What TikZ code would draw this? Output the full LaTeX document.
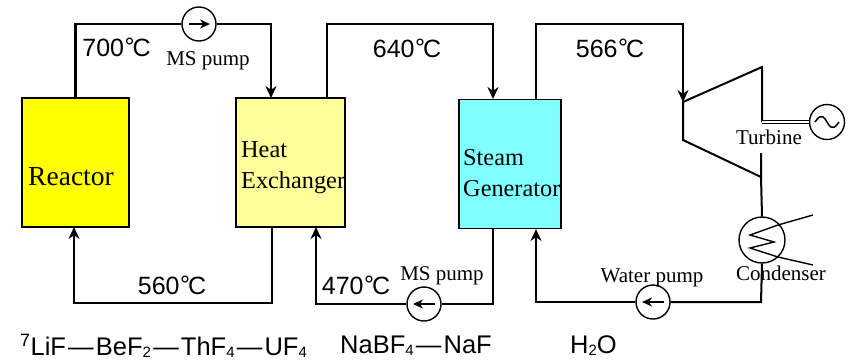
\documentclass[tikz,border=0pt]{standalone}
\usepackage{fontspec}
\setmainfont{Liberation Serif}
\newfontfamily\tempfont{Liberation Sans}
\usepackage{xcolor}
\usetikzlibrary{arrows.meta, positioning, calc}
\definecolor{reactoryellow}{RGB}{255, 255, 0}
\definecolor{hxyellow}{RGB}{255, 255, 153}
\definecolor{steamcyan}{RGB}{128, 255, 255}
\newcommand{\tempdeg}{\kern0.5pt\raisebox{1pt}{°}\kern-2pt C}
\newcommand{\saltsub}[1]{\raisebox{-2pt}{\fontsize{15pt}{15pt}\selectfont #1}}
\newcommand{\saltdash}{\kern2.2pt—\kern2.2pt}

\begin{document}
\begin{tikzpicture}[
    x=1pt, y=-1pt,
    base/.style={draw=black, line width=1.5pt, minimum height=129pt, inner sep=0pt},
    boxlabel/.style={font=\fontsize{24.3pt}{31pt}\selectfont, align=left},
    note/.style={inner sep=0pt, font=\fontsize{21pt}{24pt}\selectfont},
    temp/.style={inner sep=0pt, font=\fontsize{25pt}{26pt}\selectfont\tempfont},
    salt/.style={inner sep=0pt, font=\fontsize{25.5pt}{28pt}\selectfont\tempfont},
    pumpc/.style={circle, draw=black, line width=1.4pt, fill=white, minimum size=34pt, inner sep=0pt},
    pipe/.style={line width=2pt, black},
    arrow/.style={pipe, -{Stealth[length=12pt, width=11pt]}},
    inner/.style={line width=1.7pt, -{Stealth[length=10pt, width=9pt]}}
]
    \useasboundingbox (0, 0) rectangle (850, 360);

    % --- VESSELS ---
    \node[base, fill=reactoryellow, minimum width=107pt] (reactor) at (75.5, 162.5) {};
    \node[base, fill=hxyellow, minimum width=109pt] (hx) at (290.5, 162.5) {};
    \node[base, fill=steamcyan, minimum width=102pt] (sg) at (510, 164) {};

    \node[boxlabel, font=\fontsize{27.5pt}{30pt}\selectfont] (reactortxt) at (71, 177) {Reactor};
    \node[boxlabel, anchor=west, inner sep=0pt] (hxtxt) at (241, 168) {Heat\\Exchanger};
    \node[boxlabel, anchor=west, inner sep=0pt] (sgtxt) at (463, 173) {Steam\\Generator};

    % --- PUMPS, GENERATOR, CONDENSER ---
    \node[pumpc] (pumpa) at (199, 24) {};
    \node[pumpc] (pumpb) at (424, 304) {};
    \node[pumpc] (pumpw) at (653, 302) {};
    \node[pumpc, minimum size=35pt] (gen) at (827, 122) {};
    \node[pumpc, minimum size=46pt, fill=none] (cond) at (762, 240) {};

    \draw[inner] ([xshift=-10pt]pumpa.center) -- ([xshift=11pt]pumpa.center);
    \draw[inner] ([xshift=11pt]pumpb.center) -- ([xshift=-11pt]pumpb.center);
    \draw[inner] ([xshift=11pt]pumpw.center) -- ([xshift=-11pt]pumpw.center);
    \draw[line width=1.5pt] ([xshift=-12pt]gen.center) .. controls ($(gen.center)+(-5,-11)$) and ($(gen.center)+(-2,-3)$) .. (gen.center) .. controls ($(gen.center)+(2,3)$) and ($(gen.center)+(5,11)$) .. ([xshift=12pt]gen.center);

    % --- TURBINE ---
    \coordinate (tinlet) at (683, 102);
    \coordinate (ttop) at (762, 67);
    \coordinate (tshaft) at (762, 122);
    \coordinate (tgap) at (761, 153);
    \coordinate (tout) at (761, 177);
    \coordinate (tlow) at (683, 140);
    \draw[pipe] (tshaft) -- (ttop) -- (tinlet) -- (tlow) -- (tout) -- (tgap);
    \draw[line width=1.2pt, double=white, double distance=2pt] (tshaft -| ttop) -- (gen.west);
    \draw[pipe] (tout) -- (cond.north);

    % --- CONDENSER COIL ---
    \draw[line width=1.4pt] (813, 215) -- (778, 225) -- (750, 235) -- (774, 242) -- (750, 248) -- (778, 257) -- (813, 265);

    % --- SALT LOOPS ---
    \coordinate (hxin) at (271, 98);
    \coordinate (hxout) at (327, 98);
    \coordinate (hxback) at (272, 227);
    \coordinate (hxret) at (316, 227);
    \coordinate (sgin) at (493, 99);
    \coordinate (sgout) at (536, 99);
    \coordinate (sgback) at (493, 229);
    \coordinate (sgret) at (536, 229);
    \coordinate (condlow) at (761, 302);

    \draw[pipe, line width=2.6pt] (reactor.north) |- (pumpa.west);
    \draw[arrow] (pumpa.east) -| (hxin);
    \draw[arrow] (hxout) |- (493, 24) -- (sgin);
    \draw[arrow] (sgout) |- (683, 24) -- (tinlet);
    \draw[arrow] (hxback) |- (74, 303) -- (74, 227);
    \draw[pipe] (sgback) |- (pumpb.east);
    \draw[arrow] (pumpb.west) -| (hxret);
    \draw[pipe] (cond.south) -- (condlow) -- (pumpw.east);
    \draw[arrow] (pumpw.west) -| (sgret);

    % --- LABELS ---
    \node[temp] (t700) at (116.5, 47) {700\tempdeg};
    \node[temp] (t640) at (407, 48) {640\tempdeg};
    \node[temp] (t566) at (610, 48) {566\tempdeg};
    \node[temp] (t560) at (172, 285) {560\tempdeg};
    \node[temp] (t470) at (356, 285) {470\tempdeg};

    \node[note] (pumpatxt) at (208, 61) {MS pump};
    \node[note] (pumpbtxt) at (442, 276) {MS pump};
    \node[note] (pumpwtxt) at (652, 278) {Water pump};
    \node[note] (turbtxt) at (769, 137) {Turbine};
    \node[note] (condtxt) at (781, 273) {Condenser};

    \node[salt, anchor=west] (salta) at (20, 346) {\textsuperscript{7}LiF\saltdash BeF\saltsub{2}\saltdash ThF\saltsub{4}\saltdash UF\saltsub{4}};
    \node[salt, anchor=west] (saltb) at (340, 346) {NaBF\saltsub{4}\saltdash NaF};
    \node[salt, anchor=west] (saltw) at (570, 346) {H\saltsub{2}O};

\end{tikzpicture}
\end{document}
